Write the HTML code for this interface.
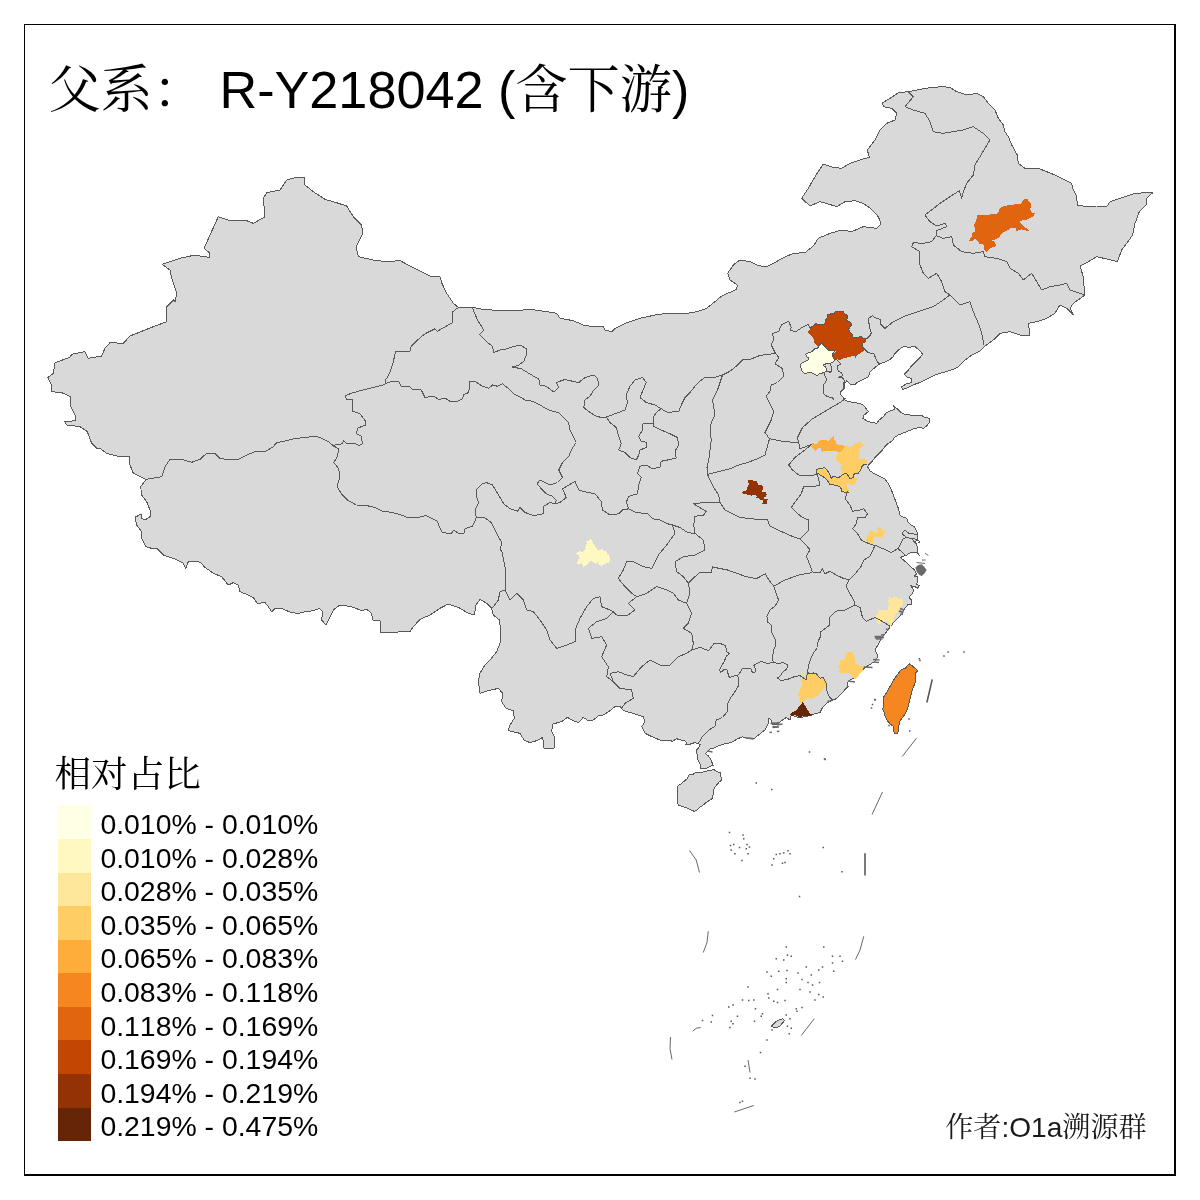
<!DOCTYPE html>
<html lang="zh"><head><meta charset="utf-8"><title>父系： R-Y218042 (含下游)</title>
<style>
html,body{margin:0;padding:0;background:#fff}
body{width:1200px;height:1200px;position:relative;overflow:hidden;font-family:"Liberation Sans","Noto Serif CJK SC",serif;color:#000}
.frame{position:absolute;left:24px;top:24px;width:1152px;height:1152px;box-sizing:border-box;border:solid #000;border-width:1px 2px 2px 1px}
svg{position:absolute;left:0;top:0}
.land{fill:#d9d9d9;stroke:#585858;stroke-width:1;stroke-linejoin:round;shape-rendering:crispEdges}
.prov{fill:none;stroke:#585858;stroke-width:1;stroke-linejoin:round;shape-rendering:crispEdges}
.reg{stroke:none;shape-rendering:crispEdges}
.tw{stroke:#585858;stroke-width:1;shape-rendering:crispEdges}
.dash{fill:none;stroke:#585858;stroke-width:.9}
.dash2{fill:none;stroke:#585858;stroke-width:1.6}
.dot{fill:none;stroke:#585858;stroke-width:1.5}
.speck{fill:none;stroke:#6a6a6a;stroke-width:1.4}
.islet{fill:none;stroke:#5a5a5a;stroke-width:1}
.title{font-kerning:none;position:absolute;left:48.4px;top:57.7px;font-size:52.2px;line-height:64px;white-space:pre;font-family:"Liberation Sans","Noto Serif CJK SC",serif}
.ltitle{position:absolute;left:54.5px;top:748.9px;font-size:36.6px;line-height:44px;white-space:pre;font-family:"Noto Serif CJK SC",serif}
.sw{position:absolute;left:58px;width:33px;height:33.6px}
.lb{font-kerning:none;position:absolute;left:100.4px;font-size:28.4px;line-height:36px;white-space:pre;height:33.5px}
.credit{font-kerning:none;position:absolute;left:945.2px;top:1108.8px;font-size:28.1px;line-height:38px;white-space:pre;color:#1a1a1a}
</style></head><body>
<div class="frame"></div>
<svg width="1200" height="1200" viewBox="0 0 1200 1200">
<path class="land" d="M175,301.67 176.67,293.33 171.67,278.33 170,270 162.33,264.33 180,258.33 195,255 203.33,256.67 210,257.33 209.33,252.67 204,248.33 218.33,216.67 230,220.67 246.67,220.67 253.33,223.33 265,216.67 263.33,198.33 266.67,192.67 280,190 286.67,180 295,177.67 304,177.33 305,185 313.33,191.67 325,199.33 333.33,201.67 346.67,206 353.33,216.67 361.67,225 362.67,233.33 356,246.67 358.33,256.67 373.33,260 386.67,261.67 400,260.67 413.33,267.67 430,276 440,276.67 441.67,282.67 446.67,293.33 453.33,303.33 458.33,307.33 471.67,307.33 483.33,309.33 500,310.67 516.67,310.67 530,309.33 546.67,311.67 556.67,313.33 560,318.33 573.33,320.67 583.33,325 593.33,326.67 603.33,326.67 605,330 611.67,331.67 615,328.33 626.67,322.67 640,318.33 655,315 666.67,313.33 683.33,314 696.67,311.67 706.67,308.33 715,301.67 721.67,296 736.67,289.33 737.33,285 730,280 727.67,273.33 733.33,265 740,260 750,261.67 758.33,265.67 766.67,266.67 776.67,261.67 780,259.33 793.33,253.33 805,252.67 813.33,246 818.33,238.33 830,233.33 841.67,230 851.67,231.67 863.33,226.67 876.67,228.33 881,224 878.33,216.67 871.67,209.33 863.33,203.33 855,200.67 845,201.67 836.67,206.67 828.33,204 820,201.67 810,206 801.67,198.33 808.33,188.33 815,176.67 823.33,164 833.33,167.33 841.67,168.33 850,163.33 861.67,159.33 869.33,157.33 867.33,150 875,140 880,130 886.67,123.33 895,120 896.67,113.33 891.67,108.33 883.33,106.67 882.67,102.67 891.67,97.33 898.33,92.67 908.33,91.67 920,89.33 930,87.67 941.67,86.67 950,87.33 956.67,91.67 966.67,95 976.67,93.33 983.33,96.67 988.33,103.33 995,110 998.33,118.33 1003.33,125 1005,131.67 1008.33,136.67 1011.67,145 1017.33,155 1018.33,163.33 1025,168.33 1038.33,168.33 1046.67,171.67 1055,175 1063.33,179.33 1071.67,183.33 1073.33,190 1076.67,196.67 1077.33,205 1086.67,206.67 1096.67,206 1106.67,206.67 1110,201.67 1123.33,197.33 1133.33,194 1146.67,192.33 1152.67,192.67 1146.67,198.33 1146,205 1139.33,211.67 1135,223.33 1132.67,235 1126.67,243.33 1121.67,250 1117.33,261.67 1108.33,259.33 1096.67,256.67 1088.33,261.67 1080,266 1083.33,276.67 1084.33,290 1085,295 1073.33,303.33 1070,308.33 1073.33,315 1066.67,308.33 1060,305 1055,313.33 1046.67,318.33 1036.67,321.67 1028.33,323.33 1030,335 1020,335 1010,331.67 1000,333.33 993.33,340 985,346 980,350.83 973.33,354.17 968.33,357.5 963.33,361.67 958.33,366.67 953.33,369.17 946.67,371.67 940,373.33 935,375 930,377.5 925,380 920,382.5 915,384.17 910,386.67 905,388.67 902.5,389.67 901.67,386.67 905.83,384.17 911.67,382.5 911.67,378.33 907.5,377.5 904.17,374.17 908.33,370 911.67,365.83 915.83,361.67 920,357.5 922.5,354.17 919.17,350 915,346.67 909.17,347.17 903.33,346.67 898.33,350 895,353.33 893.33,356.67 889.17,360 884.17,362.5 880,363.67 875,367.5 870,371.67 868.33,376.67 863.33,379.17 858.33,381.67 854.17,385 850,384.17 846.67,380.83 844.17,384.17 844.17,388.33 840.83,391.67 840,394.17 843.33,397.5 845.83,400.83 853.33,402.5 860,403.33 863.33,405 866.67,409.17 868.33,411.67 864.17,415 862.83,418.33 866.67,420.83 871.67,422.5 876.67,423.33 879.17,420 883.33,416.67 886.67,412.5 890.83,410.83 895,409.17 893.33,405.83 896.67,408.33 900,411.67 904.17,414.17 910,415 915,415.83 920.83,415 925,417.5 930,418.33 929.17,422.5 926.67,425.83 923.33,428.33 919.17,427.5 915,428.33 910.83,430 906.67,431.67 902.5,433.33 898.33,435 894.17,437.5 892.5,440.83 888.33,443.33 885,446.67 881.67,450.83 878.33,454.17 875,457.5 872.5,460.83 869.17,464.17 867.5,466.67 870,470.83 875,474.17 880,476.67 885,479.17 888.33,483.33 890.83,488.33 893.33,495 895.83,501.67 898.33,508.33 900,515 901.67,516.67 906.67,518.33 908.33,522.5 911.67,525.42 914.17,526.67 916.67,530.83 917.92,535 917.5,539.17 915.42,542.08 917.08,545.83 917.67,549.17 917.92,552.5 919.17,555.42 916.67,552.67 910.83,552.5 906.67,555 903.33,556.25 900.42,557.5 903.33,560 907.5,563.33 911.67,567.5 914.17,569.58 915.42,571.67 916.67,574.17 914.17,576.25 917.5,576.67 917.92,580.83 916.67,584.17 919.17,585.83 917.5,588.33 915,586.67 910.83,585.83 913.33,589.17 912.92,593.33 910,595.83 909.58,598.33 911.67,600 911.25,604.17 908.33,604.17 905,608.33 903.33,610 902.5,613.75 897.5,618.75 892.5,623.75 888.75,628.75 885,633.75 881.25,637.5 878.75,643.75 875,650 878,656.25 875,661.25 870,664.5 865,667.5 860,672.5 855,677.5 850,680 847.5,682.5 848.12,686.25 842.5,692.5 836.25,698.75 831.25,700.62 827.5,702.5 822.5,707.5 820,712.5 815,713.75 810,715.62 806.25,716.25 801.25,717.5 796.25,716.88 791.25,715 790,720 786.25,717.5 782.5,720 777.5,723.75 772.5,725 771.25,720 768.75,718.12 768.12,723.75 765,730 760,733.75 753.75,738.75 748.75,738.75 742.5,736.88 737.5,738.75 731.25,742.5 725,743.75 718.75,745.62 712.5,748.75 710,748.75 707.5,751.67 705.42,753.33 706.67,754.58 708.33,755.83 710,758.33 711.67,761.67 713.33,765.42 711.67,765.42 708.33,767.5 704.17,768.75 700.42,768.33 700.83,765 699.17,762.5 697.5,759.17 697.08,755 696.67,750 698.75,747.5 700,744.58 697.08,743.33 695,742.5 690,744.17 685.83,744.58 686.67,742.5 685,740.83 680.83,740 676.67,738.75 672.5,741.25 670,740.67 660,740 653.33,737.33 645,733.33 641.67,726.67 645,721.67 643.33,716.67 633.33,713.33 623.33,710.67 620,706 615,706.67 610,710.67 603.33,715 598.33,716 593.33,720 588.33,720.67 583.33,717.33 578.33,722.67 573.33,720.67 567.33,717.33 561.67,721.67 552.67,724 551.67,731.67 555,738.33 554,748.33 544,748.33 542.67,737.33 536.67,740.67 530,742.67 524,740 520,733.33 508.33,730.67 510,725 514.33,718.33 513.33,710.67 506,708.33 501.67,701.67 502.67,693.33 498.33,688.33 488.33,690.67 480,693.33 478.33,681.67 480,673.33 485,665 490,660 496.67,651.67 500,643.33 500.67,630 499.33,620 493.33,615 491.67,608.33 486.67,603.33 480,599.33 476,605 474.33,615 468.33,613.33 458.33,607.33 448.33,604 440,608.33 430,615 420,619.33 413.33,626.67 410,631.67 386.67,632.33 381,632.67 380,620.67 372.67,620 371.67,613.33 366.67,609.33 361.67,610.67 353.33,607.33 346.67,606 340,605 333.33,610 329.33,618.33 326,625 321.67,620 322.67,611.67 319.33,608.33 313.33,610.67 305,611.67 298.33,613.33 291.67,612.67 285,610 281.67,608.33 275,608.33 271.67,611.67 268.33,606.67 265,602.67 257.33,603.33 253.33,597.67 248.33,595 240,591.67 238.33,585 233.33,582.67 228.33,585 221.67,576.67 213.33,573.33 204,566.67 201.67,563.33 196.67,561 188.33,561.67 185.67,568.33 183.33,563.33 173.33,558.33 163.33,555 156.67,548.33 151.67,548.33 145.67,546.67 141.67,538.33 141.67,531.67 136.67,525 135,517.33 141,514 141.67,518.33 145,520 150,516.67 150,510 146.67,501.67 141.67,495 140.67,486.67 146,479.33 140,476.67 133.33,473.33 130,465 129.33,456.67 116.67,456 106.67,453.33 100,448.33 96.67,448.33 91.67,443.33 87.33,431.67 80,426.67 66.67,425 65,421.67 75,420.67 76,416.67 71,406.67 70.67,396.67 61.67,392.67 51.67,391.67 51.67,385 47.67,377.67 53.33,373.33 55,362.67 70,357.33 71.67,354.33 85,351.67 88.33,358.33 101.67,356 105,348.33 110,342.67 123.33,343.33 130,336 153.33,326.67 166.67,321.67 166.67,306.67 173.33,300Z"/>
<path class="land" d="M677.92,785.83 680.83,784.17 684.17,781.25 687.5,778.33 689.17,775 693.33,774.17 695.83,772.08 699.17,772.92 704.17,771.67 709.17,770.42 714.17,769.58 716.67,771.67 720,772.5 720.83,775.83 721.67,780 719.17,782.08 716.67,785 714.17,788.33 713.33,792.5 712.5,798.33 710,800 706.67,802.08 703.33,805 699.17,807.5 696.67,810.42 694.17,811.25 690.83,810 686.67,807.92 682.5,806.67 678.33,805 677.08,802.5 677.92,798.33 677.08,794.17 677.5,789.17Z"/>
<path class="reg" fill="#c14702" d="M808,331.88 810.25,329.63 812.5,326.25 815.88,323.63 820,324.75 823.75,324 826,321.75 825.25,319.88 827.13,318 827.5,315 830.88,313.88 834.25,313.88 835.38,311.63 842.88,311.4 844,313.13 847,315.38 847.38,318.38 845.88,319.5 847.75,321.38 850.75,322.13 851.5,324.75 849.63,327.38 848.5,329.25 850,332.25 852.25,334.5 853,337.13 857.5,337.13 861.25,336.75 863.88,338.63 866.13,339 865,342 862.38,343.5 862,346.5 864.25,348.75 864.25,351 861.25,352.5 859,354 857.13,355.5 855.63,357.75 854.5,356.25 849.25,356.63 845.5,358.13 842.5,358.5 839.5,360 836.5,359.25 833.5,358.5 832.75,355.5 832.38,353.63 835,352.5 836.5,351.75 835,350.25 832,350.63 829,350.25 826.75,348.75 825.25,346.88 823.38,345 821.88,343.5 820,344.25 818.13,346.13 815.88,344.25 814.38,343.13 814,340.5 812.88,337.5 811,335.25 809.13,333.75Z"/>
<path class="reg" fill="#ffffe5" d="M821.88,343.5 823.38,345 825.25,346.88 826.75,348.75 829,350.25 832,350.63 835,350.25 834.25,351.75 832.38,353.63 832.75,355.5 833.5,358.5 835,360 832.75,362.25 830.5,363.38 827.5,363.75 824.5,364.13 823.38,365.25 825.25,366.75 826.75,369 826,371.25 824.13,372.38 822.25,373.13 819.63,373.5 817,375.75 814,373.88 811,372.75 808,372.75 805,373.88 802.75,372 801.25,370.5 801.25,368.25 800.13,366 801.25,363.38 805,361.5 808,360 809.13,358.13 806.88,357 805.75,354 808.75,352.5 811.75,351.75 814.75,348.75 817.38,348.75 818.88,345.75 820.75,343.88Z"/>
<path class="reg" fill="#e1640e" d="M977.25,215 988.5,214.63 996.75,213.88 999,211.25 999.38,208.63 1001.25,206.75 1005,206 1008.75,204.88 1012.5,204.88 1017,203.75 1020.75,204.13 1022.25,201.88 1023.75,199.25 1027.88,198.88 1028.63,201.13 1030.88,203 1030.88,206.38 1030.13,209 1030.88,211.63 1033.13,213.13 1035,213.13 1033.88,216.13 1030.5,217.63 1027.5,219.5 1023.75,219.5 1020.75,221 1019.25,221.75 1022.25,224.75 1026,228.13 1029,230 1028.25,230.75 1024.5,230.38 1021.5,229.25 1018.5,230.38 1016.25,230.75 1015.5,228.5 1012.5,228.13 1010.25,228.5 1007.25,230.38 1003.5,232.25 1000.88,234.5 999.38,237.5 996,239 992.25,240.5 994.5,242 996,244.25 995.25,246.88 993,247.25 989.25,248.75 986.25,251.75 984.75,251 984,247.25 983.25,244.25 979.5,243.88 978,240.88 975,239 972.75,240.5 969.38,240.88 970.5,237.5 972,236 972.38,232.63 975,231.88 974.63,227.75 974.25,224.75 976.13,220.25 976.88,217.25Z"/>
<path class="reg" fill="#933204" d="M748,480 752.75,480 753.25,481 757,481 758,484 758.25,485 762,485 763,486.5 763,489.5 762,490.5 762,492 765.75,492.25 766.75,494.25 765.75,495.25 765.75,496.75 764.25,497 764,499 768,499.25 767,500.5 767,503.75 762,503.75 763,502.75 763,500 760,499.75 759,498.25 756,497.75 757,496.25 755,495 752,494.5 751.5,495.5 750.5,494.75 747,494.75 746.25,494 743,493.75 742,492.25 743.25,491.25 746,491 747.25,489 747.5,486.5 748.75,484 748,482Z"/>
<path class="reg" fill="#feac3a" d="M811.25,446.75 812,443.75 813.88,442.25 814.25,444.5 817.25,443.75 818.38,441.13 821.75,440 826.25,440.38 828.5,441.13 830,439.25 832.25,437.38 833.75,436.25 834.13,439.25 836,441.13 836.38,443.75 839,444.88 842,445.25 844.63,446.38 843.5,448.25 841.63,450.88 839,452.75 836.75,450.88 833.75,450.5 830,451.25 826.25,450.88 821.75,451.63 821,449 821.75,447.5 819.13,447.88 817.25,449.38 815,450.88 813.5,448.63Z"/>
<path class="reg" fill="#fece65" d="M844.63,446.38 846.88,445.63 848.75,446.75 852.5,446.38 855.13,443.38 858.5,442.63 860.75,442.25 862.25,444.13 864.88,444.5 863,446 860.75,447.5 858.5,449.75 860,452 859.25,454.25 859.63,456.5 857.38,458 859.25,458.75 862.25,459.13 863.75,458 865.25,459.88 866.75,460.63 866.75,463.25 864.5,464.38 862.25,465.88 861.13,468.5 860,470.75 858.5,473 855.88,473 854,474.5 853.63,477.5 851.75,477.88 849.88,478.25 848.75,476.75 848,474.5 845.75,473.38 843.5,474.13 842,473 841.25,470 840.13,467.75 841.63,465.5 839.75,463.25 837.5,461.75 835.63,459.5 836.38,456.5 837.5,454.25 839,452.75 841.63,450.88 843.5,448.25Z"/>
<path class="reg" fill="#fece65" d="M818,469.25 821,468.88 824.75,469.25 826.25,470 828.13,473 830,476 831.5,478.63 833,476 835.25,476.75 837.5,477.5 840.5,476.75 842.75,474.5 845,473.75 847.25,474.13 848.75,476.75 849.5,478.63 852.5,478.25 857.75,478.25 856.25,481.25 855.5,483.5 854,485 851,484.63 849.5,483.5 845.75,484.25 847.25,486.5 848.75,489.5 848.75,492.13 845,492.13 842,491.75 841.25,488.75 839.75,486.5 836.75,485.75 833,484.63 829.63,484.25 828.5,482 826.25,479 823.25,476.75 820.25,475.25 818.38,473 817.63,470.75Z"/>
<path class="reg" fill="#fff8c1" d="M590.5,538.9 592,540.25 592,541.75 593,542.25 593,543.75 595,545.25 595,547 597,548 597,550 601,550 601.25,549 603,549 603,551 606,551 607,552.25 607,554 609,554.25 609.25,557 610,557.25 610,561 609,561 609,563 606,563 605,564 603,565 602,565 601.75,567 601,567 600.75,565 598,564 598,562 597,562 597,564 596,564 595.75,563 594,562.75 593,562 592,561.75 591,561 590,561.25 589,562.25 589,563.25 587,564 586,565 585,566 584,566.25 583.25,567 582.75,565 581.75,564 581.25,563 580,564 577,564 577,562.25 578,562 578,559.25 580,559 580,558 579,558 578.75,555 577,555 576,553.5 577.25,552.25 579,552 579.25,551 581,551 581.25,552 583,552 585,549.5 586,548.5 585,548 585,547 586,546.75 586,544 587,543.75 587,542.25 586,542 586,541 588.75,540.75 589,540Z"/>
<path class="reg" fill="#fece65" d="M878.75,527 880,527.25 880.25,528 881.75,528.25 882,529.75 881.25,530 881.25,531 884,531 884.25,530 885,530 885,532 884,534 883,535 882,536 882,537 883,537.25 883,539 882,539 881,537.25 880,537 876,537 875,536 874,537 873,539 873,544 872,544.75 870,542.5 869,543 867,542 866,540 866,538.5 867,538 867.25,536 869,534 869,531.5 871,531 871.25,530 872,530 872.25,531 874,531 875,532 876,533 877,533 878,531 877,530 877,528 877.75,527.25Z"/>
<path class="reg" fill="#fee79b" d="M889,597 890.25,598 893,597.75 894,597 896,597 897,598 898,599 901,599 901.25,598 902,598.25 902.25,600 903,600.25 903,605 901.5,606 900,608 899,610 898,612 897,613 895.25,614 895,616 894,617 893.25,619 894,620 894.25,621 893,622 892,624 891.25,625 891.25,627 890,627 889.75,624 889,623.5 888,622 887,622 886,621 884,621 883,622 882,622.25 881,623 880,624 879,624.5 877.5,623 876.75,621 876,619 875.75,617 875,616 876,615 878,614 878,611 879,610 881,610.25 882,611 883,610.25 886,610 888,609.5 888.25,606 889,604 889,603 888,602 887,601.25 888,600 889,599.5Z"/>
<path class="reg" fill="#fece65" d="M807.13,672.25 809,673.38 813.5,673 816.5,673.75 818,676 820.25,678.25 823.25,677.5 824.38,679.75 825.88,682.75 825.88,686.5 824,688 822.5,690.25 820.25,692.5 818.75,695.5 815,697 812.75,698.88 809.75,698.13 806.38,699.25 805.25,700.75 802.63,702.25 800.75,703.75 799.25,701.5 800,698.5 798.5,696.25 798.13,694 800,691 799.63,688.75 801.88,686.5 802.25,682.75 801.13,680.88 800,679.38 802.25,678.25 804.5,679.75 806.75,680.5 806,677.5 806.38,674.5Z"/>
<path class="reg" fill="#662506" d="M802.63,702.25 804.5,704.5 805.63,706 806.75,709 809,711.25 809.75,713.5 812.75,713.88 813.88,714.25 812,715.38 809,715.75 806.75,716.5 803,715.75 801.13,717.63 798.88,717.25 797.75,715.75 794.75,715.38 792.13,716.5 789.88,713.88 792.5,712.38 796.25,710.5 798.13,707.88 800,705.25Z"/>
<path class="reg" fill="#fece65" d="M847.25,652 852.5,651.85 853.25,655 855.13,657.25 855.13,662.5 857,664.75 860,665.88 863,665.5 863.75,667.38 863,670.75 860.75,673 858.88,675.25 857.38,677.5 855.13,679 852.88,678.25 851.75,675.25 850.25,673.75 847.25,673 843.5,673 839.75,673.75 839,670.75 840.5,669.25 838.25,666.25 839.75,664 840.13,660.25 842.75,659.88 845,658.75 845.38,655Z"/>
<path class="prov" d="M146,479.33 161.67,476.67 165,466.67 170,459.33 181.67,459.33 191.67,462.33 200,459.33 206.67,453.33 215,453.33 220,458.33 230,460 238.33,459.33 246.67,455 256.67,451 265,451.67 273.33,446.67 276.67,442.67 286.67,440.67 295,438.33 305,437.67 315,436 321.67,438.33 328.33,441.67 333.33,445.67"/>
<path class="prov" d="M457.5,308 452,312.5 453,322.5 443.75,327.5 437.5,331.25 435,328.75 425,333.75 417.5,340 411.25,346.25 410,351.25 395.5,352 392.5,365 388.75,375 385.5,380 385,383.75"/>
<path class="prov" d="M385,384.5 375,387 365,389.5 353.75,392.5 345.5,395.5 346.25,399.5 352.5,400 352.5,411.25 360,413.75 365.5,421.25 365.5,425 358,428 356.25,433.75 361.25,436.25 362.5,443.75 358.75,445.5 353.75,443 346.25,443 343.75,440.5 342,443.75 332.5,445.5"/>
<path class="prov" d="M332.5,445.5 338.75,448.75 337.5,456.25 333.75,462.5 338.75,468.75 340,477.5 337,486.25 341.25,493.75 347.5,500 356.25,505 366.25,505.5 375,507.5 382.5,511.25 392.5,512.5 400,514.5 407.5,517.5 417.5,517.5 426.25,515.5 432.5,518.75 437.5,521.25 439.5,527.5 442.5,532.5 451.25,533.75 453.75,530 458.75,533.75 463.75,533.75 465,528.75 472.5,526.25 475,521.25 476.25,517"/>
<path class="prov" d="M476.25,517 485,518 491.25,522.5 495,530 498.75,537.5 502,542.5 500,550"/>
<path class="prov" d="M476.25,517 475,510 478.75,502.5 476.25,496.25 476.25,490 482.5,483.75 486.25,482.5 492.5,485 496.25,491.25 500,497.5 503.75,503.75 510,508.75 517.5,511.25 520,507.5 525,512.5 533.75,515.5 543.75,513.75 543.75,506.25 550,502.5 555,503.75"/>
<path class="prov" d="M576.25,442.5 571.25,450 568.75,456.25 562.5,462.5 558.75,470 562.5,477.5 557.5,482.5 550,485 540,480 537,483.75 541.25,488.75 546.25,493.75 552.5,496.25 556.25,500 555,503.75 560,502.5 566.25,497.5 562.5,488.75 568.75,485 575,481.25 578.75,490 587.5,492.5 595,493.75 600,500"/>
<path class="prov" d="M385,383.75 390,382 398.75,381.75 401.25,386.25 410,387 412.5,389.5 421.25,390 425,397.5 433.75,396.25 438.75,399.5 445,398 450,401.25 456.25,402 462.5,398.75 463.75,394.5 468.75,392.5 470,381.25 475,381.25 482.5,386.25 488.75,388.25 492.5,385 497.5,386.25 502.5,383.75 508.75,388.75 513.75,393.75 521.25,397.5 525,400 532.5,401.25 540,405 546.25,408.75 552.5,411.25 558.75,412.5 563.75,417.5 568.75,422.5 569.5,428.75 572.5,435 576.25,442.5"/>
<path class="prov" d="M472.5,308 477.5,320 483.75,330 479.5,334.5 487.5,342.5 492.5,346.25 493.75,352.5 500,350 507.5,348.75 513.75,346.25 521.25,345.5 526.25,348.75 526.25,355 523.75,361.25 518.75,365 512.5,367 521.25,368.75 527.5,372.5 533.75,376.25 538.75,378.75 540,385 546.25,386.25 553.75,392 558.75,387.5 556.25,382.5 565,379.5 572.5,381.25 578.75,382.5 585,377.5 593.75,375 597.5,378.75 598.75,385 593.75,390 590,396.25 585,400 583.75,407.5 590,412.5 596.25,416.25 600,417"/>
<path class="prov" d="M598.75,417 606.25,417 615,413.75 625,410 627.5,402.5 626.25,395 630,386.25 635,380 642.5,377.5 646.25,382.5 642.5,391.25 640,397.5 646.25,402.5 655,405 661.25,408.75"/>
<path class="prov" d="M606.25,417 610,422.5 616.25,427.5 618.75,436.25 621.25,443.75 618.75,450 625,452.5 630,457.5 636.25,460 638.75,455 640,450 646.25,447.5 647,442.5 641.25,441.25 638.75,436.25 642.5,430 643,423.75 653.75,423 653.75,416.25 657.5,411.25 661.25,408.75"/>
<path class="prov" d="M653.75,423 653.75,426.25 661.25,430 670,433.75 677.5,437.5 678.75,445 675,451.25 676.25,458 667.5,460 661.25,461.25 660,467 652.5,468.75 646.25,465 640,466.25 637.5,473.75 641.25,477.5 638.75,485 637.5,493.75 628.75,496.25 626.25,502.5 628.75,508.75"/>
<path class="prov" d="M600,500 601.25,501.25 602.5,510 610,515 618.75,513.75 622.5,510 628.75,508.75 636.25,512.5 647.5,513.75 652.5,518.75 660,520 667.5,523.75 672.5,525 680,527.5 687.5,532.5 695,533.75 693.75,525 695,516.25 703.75,515 706.25,511.25 697.5,506.25 693.75,503.75 705,502.5 720,503"/>
<path class="prov" d="M722.5,375 720,382.5 717.5,390 712.5,400 713.75,407.5 715,415 711.25,422.5 710,430 711.25,440 710,450 708.75,460 707,467.5 707.5,474.5 710,480 713.75,487.5 718.75,495 720,503"/>
<path class="prov" d="M661.25,408.75 667.5,412.5 678.75,411.25 681.25,405 685,397.5 690,392.5 695,386.25 700,381.25 705,377.5 712.5,378 722.5,375 730,371.25 736.25,366.25 742.5,360 750,359.5 757.5,356.25 765,354.5 773.75,353.75 775,352.5"/>
<path class="prov" d="M775,352.5 778.75,357.5 775,363.75 782.5,368.75 783.75,376.25 777.5,382.5 771.25,385 770,391.25 766.25,396.25 770,403.75 773.75,411.25 771.25,420 767.5,427.5 765,432.5 769.5,438.75"/>
<path class="prov" d="M769.5,438.75 767.5,446.25 765,455 757.5,458.75 747.5,462.5 738.75,465 730,468.75 720,471.25 707.5,474.5"/>
<path class="prov" d="M775,352.5 771.25,345 773.75,338.75 772.5,333.75 778.75,331.25 781.25,325 788.75,321.25 791.25,327.5 790,331.25"/>
<path class="prov" d="M770,438.75 782.5,441.25 798.75,443 800,448.75"/>
<path class="prov" d="M800,448.75 797.5,437.5 802.5,427.5 812.5,418.75 825,411.25 840,402.5 846.25,398"/>
<path class="prov" d="M800,448.75 811.25,444.5 805,450 795,457.5 788.75,465 792.5,470 798.75,475 810,475.5 817.5,474.5 820,485 815,486.25 803.75,486.25 801.25,493.75 797.5,498.75 791.25,507.5 796.25,512.5 802.5,517.5 808.75,520 808.75,530 803.75,535 800,538.75 806.25,545 810,550 806.25,556.25 810,565 812.5,572.5"/>
<path class="prov" d="M720,502.5 725,510 740,517.5 758.75,519.5 767.5,520 770,526.25 782.5,532 793.75,537 800,538.75"/>
<path class="prov" d="M847.5,491.25 845,498.75 850,505 852.5,511.25 860,510 863.75,508.75 867.5,513.75 865,517.5 857.5,517.5 856.25,523.75 852.5,528.75 857.5,533.75 861.25,540 866.25,542.5 872.5,545 875,545"/>
<path class="prov" d="M875,545 880,547.5 886.25,550 891.25,552.5 897.5,548.75 900,551.25"/>
<path class="prov" d="M875,545 872.5,551.25 870,556.25 863.75,560 861.25,566.25 856.25,572.5 850,578.75 848.75,580"/>
<path class="prov" d="M812.5,572.5 820,572.5 822.5,568.75 825,573.75 830,571.25 836.25,575 842.5,578 848.75,580"/>
<path class="prov" d="M700,572.5 711.25,572.5 712.5,567 727.5,570 745,576.25 756.25,578.75 765.5,573.75 768.75,580 773.75,586.25"/>
<path class="prov" d="M773.75,586.25 785,580 798.75,575 812.5,572.5"/>
<path class="prov" d="M773.75,586.25 777.5,597.5 778.75,600"/>
<path class="prov" d="M778.75,600 775,606.25 770,610 766.88,616.25 767.5,621.88 771.25,625 771.88,632.5 775,638.75 775.62,645 773.75,650 772.5,656.25 773.12,661.88"/>
<path class="prov" d="M848.75,580 846.25,586.25 850,593.75 853.75,600 855,605"/>
<path class="prov" d="M855,605 850,607.5 845,610 840,610 835,611.88 829.38,617.5 830,625 825,628.75 820,632.5 820.62,636.25 818.12,641.25 817.5,647.5 813.75,652.5 811.25,657.5 808.75,665 807.5,672.5"/>
<path class="prov" d="M855,605 860,607.5 862.5,617.5 866.25,621.25 875,617.5 880,620 890,626.25"/>
<path class="prov" d="M500,550 501.67,550 505,566.67 506,583.33 505,590 500,591.67 498.33,600 493.33,606.67 491.67,608.33"/>
<path class="prov" d="M505,590 510,600 516.67,593.33 523.33,600 526.67,610 533.33,611.67 540,620 546.67,630 550,640 556.67,648.33 566.67,645 575,641.67 575,630 580,618.33 586.67,606.67 593.33,598.33 600,596.67 601.67,606.67 610,610 613.33,611.67"/>
<path class="prov" d="M613.33,611.67 606.67,618.33 596.67,621.67 588.33,628.33 591.67,638.33 601.67,636.67 606.67,645 601.67,656.67 608.33,666.67 606.67,676.67 613.33,681.67 620,688.33 631.67,690 633.33,698.33 625,703.33 621.67,708.33"/>
<path class="prov" d="M672.33,525 675,533.33 666.67,545 658.33,555 651.67,568.33 643.33,566.67 633.33,561.67 626.67,561.67 623.33,570 618.33,578.33 625,586.67 631.67,593.33 636.67,596.67"/>
<path class="prov" d="M613.33,611.67 616.67,615 628.33,615 635,610 628.33,603.33 636.67,596.67 646.67,593.33 656.67,586.67 666.67,590 673.33,593.33 678.33,600 686.67,603.33"/>
<path class="prov" d="M695,533.33 703.33,540 705,550 695,555 683.33,556.67 675,561.67 676.67,571.67 683.33,576.67 688.33,583.33 690,593.33 686.67,603.33 691.67,613.33 688.33,623.33 683.33,628.33 691.67,633.33 693.33,643.33 691.67,650"/>
<path class="prov" d="M688.33,583.33 695,576.67 700,572.33"/>
<path class="prov" d="M613.33,681.67 610,673.33 618.33,671.67 626.67,675 633.33,676.67 641.67,666.67 650,660 660,665 670,665 678.33,656.67 686.67,653.33 691.67,650 700,647.33"/>
<path class="prov" d="M700,646.88 705,649.38 708.75,650.62 713.75,643.75 719.38,643.12 725.62,645.62 726.88,651.88 729.38,653.75 726.25,656.25 724.38,661.25 721.25,666.25 719.38,670 720.62,672.5 724.38,669.38 726.88,670 729.38,677.5 732.5,676.25 737.5,675.62 740,672.5 742.5,668.12 750.62,668.12 751.88,671.88 755,672.5 755.62,669.38 753.75,665 756.88,663.75 761.25,661.25 768.12,663.75 773.12,661.88 777.5,663.75 783.12,662.5 787.5,665 786.88,668.75 782.5,672.5 780,676.25 777.5,678.12 781.25,680.62 787.5,679.38 793.75,676.88 800,675.62 803.75,678.12 806.25,680 807.5,672.5"/>
<path class="prov" d="M737.5,675.62 738.75,680 738.12,686.25 734.38,692.5 730,698.75 727.5,703.75 727.5,711.25 722.5,717.5 716.25,720 715,726.25 708.75,730 702.5,736.25 700,741.25 696.88,743.75"/>
<path class="prov" d="M908.33,91.67 913.33,96.67 905,106.67 913.33,110 925,113.33 930,121.67 933.33,131.67 943.33,133.33 953.33,131.67 963.33,130 973.33,126.67 983.33,133.33 990,140 985,148.33 980,156.67 975,165 973.33,175 966.67,183.33 963.33,191.67 961.67,198.33 959.33,190.67 950,196.67 940,203.33 931.67,210 925,215 930,221.67 936.67,226 945,223.33 946.67,226.67 936.67,230.67 936,235.67"/>
<path class="prov" d="M936,235.67 931.67,241.67 923.33,243.33 913.33,242.67 911.67,246.67 920,251.67 919.33,263.33 923.33,273.33 928.33,278.33 936.67,273.33 941.67,281.67 945,291.67 950,295"/>
<path class="prov" d="M936,235.67 943.33,238.33 951.67,236.67 953.33,245 961.67,251.67 973.33,253.33 983.33,251.67 985,256.67 996.67,258.33 1006.67,261.67 1010,268.33 1018.33,273.33 1023.33,280 1031.67,273.33 1036.67,281.67 1041.67,290 1050,286.67 1060,285 1066.67,283.33 1070,290 1085,295"/>
<path class="prov" d="M950,295 960,305 970,301.67 973.33,311.67 978.33,323.33 981.67,333.33 984,345"/>
<path class="prov" d="M950,295 943.33,300 933.33,306.67 923.33,310 913.33,313.33 903.33,316.67 893.33,321.67 885,328.33 880,323.33 880,319.33"/>
<path class="prov" d="M821.88,343.5 823.38,345 825.25,346.88 826.75,348.75 829,350.25 832,350.63 835,350.25 834.25,351.75 832.38,353.63 832.75,355.5 833.5,358.5 835,360 832.75,362.25 830.5,363.38 827.5,363.75 824.5,364.13 823.38,365.25 825.25,366.75 826.75,369 826,371.25 824.13,372.38 822.25,373.13 819.63,373.5 817,375.75 814,373.88 811,372.75 808,372.75 805,373.88 802.75,372 801.25,370.5 801.25,368.25 800.13,366 801.25,363.38 805,361.5 808,360 809.13,358.13 806.88,357 805.75,354 808.75,352.5 811.75,351.75 814.75,348.75 817.38,348.75 818.88,345.75 820.75,343.88 821.88,343.5"/>
<path class="prov" d="M790,331.13 790.75,330.38 796,331.88 798.25,330 802.75,327 808.38,324.38 810.25,328.13 812.5,326.25 815.88,323.63 820,324.75 823.75,324 826,321.75 825.25,319.88 827.13,318 827.5,315 830.88,313.88 834.25,313.88 835.38,311.63 842.88,311.4 844,313.13 847,315.38 847.38,318.38 845.88,319.5 847.75,321.38 850.75,322.13 851.5,324.75 849.63,327.38 848.5,329.25 850,332.25 852.25,334.5 853,337.13 857.5,337.13 861.25,336.75 863.88,338.63 866.13,339 868,337.5 870.25,335.25 871.38,332.63 870.25,330 869.5,325.5 868.38,321 868.75,318 872.5,315.75 874.75,317.63 880,319.5"/>
<path class="prov" d="M866.13,339 865,342 862.38,343.5 862,346.5 864.25,348.75 868,352.5 874,354 875.5,357.75 877.75,362.25 880,364.13"/>
<path class="prov" d="M835,360 836.5,359.25 838.75,361.5 841,364.5 838,365.25 837.25,368.25 838.75,371.25 841.75,373.13 842.5,375.75 838,377.25 842.5,378 844.75,381 843.63,383.25 843.63,387 842.5,390"/>
<path class="prov" d="M824.13,372.38 825.25,376.5 826.75,379.5 825.25,382.5 823,385.5 823,390 824.13,394.5 827.5,396.75 832,397.5 834.25,399.75"/>
<path class="prov" d="M830.5,363.38 831.25,367.5 832,369.75 830.5,372.38 827.5,371.25 826,371.25"/>
<path class="prov" d="M816.13,474.5 816.5,470 818,468.88 821,468.35 824.75,467.75 826.63,469.25 828.5,472.25 830.38,476 831.5,478.63 833,476 835.25,476.75 837.5,477.5 840.5,476.75 842.75,474.5 845,473.75 847.25,474.13 848.75,476.75 849.5,478.63 853.63,477.5 854,474.5 855.88,473 858.5,473 860,470.75 861.13,468.5 862.25,465.88 864.5,464.38 867.5,464"/>
<path class="prov" d="M816.13,474.5 817.63,473 818.38,473 820.25,475.25 823.25,476.75 826.25,479 828.5,482 829.63,484.25 833,484.63 836.75,485.75 839.75,486.5 841.25,488.75 842,491.75 845,492.13 848.75,492.13"/>
<path class="prov" d="M807.5,672.25 809,673.38 813.5,673 816.5,673.75 818,676 820.25,678.25 823.25,677.5 824.38,679.75 825.88,682.75 826.63,686.5 827,691 828.5,695.5 830.75,698.5 833,700"/>
<path class="prov" d="M901.67,533.33 905,530 909.17,533.75 916.67,534.17"/>
<path class="prov" d="M901.67,533.33 906.67,537.5 911.67,538.75 915,542.5"/>
<path class="prov" d="M911.67,538.75 916.67,539.17 920,542.08 917.5,543.33"/>
<path class="prov" d="M898.33,548.33 900.83,543.33 903.33,538.75 906.67,537.5"/>
<path class="prov" d="M898.33,548.33 902.5,552.5 905,555 906.67,555"/>
<path class="tw" fill="#f68720" d="M909.38,664 911.88,665.62 915,668.12 918.12,671 915.62,672.5 915,676.25 915.62,681.25 913.75,686.25 911.88,691.25 910.62,696.25 909.38,701.25 908.12,706.25 906.88,710 905,714.38 902.5,717.5 900,720.62 899,725 898.5,730 897.5,733.75 895,734 893.5,731.25 893.12,726.25 890,723.75 886.88,720 885,716.25 884.38,712.5 882.5,709.38 883.75,705 883.12,700 883.75,696.88 886.25,693.12 888.75,688.75 891.25,684.38 893.75,680 896.25,676.25 899.38,671.88 901.88,669.38 905.62,668.12 907.5,665.62Z"/>
<path class="dash" d="M916.5,738.12 902.25,756.5"/>
<path class="dash" d="M882.5,792 872,814.5"/>
<path class="dash" d="M863.75,936.25 860,950 855.5,959.5"/>
<path class="dash" d="M814.25,1018.75 801.25,1035.5"/>
<path class="dash" d="M689.5,850.5 696.25,860 699.5,872.5"/>
<path class="dash" d="M708.25,931.25 707,942.5 703.25,952.5"/>
<path class="dash" d="M670.5,1037 670,1048.75 672,1059.5"/>
<path class="dash" d="M734.25,1112 753.75,1105.5"/>
<path class="dash" d="M748,1060 750,1072.5"/>
<path class="dash" d="M692.5,1031.25 696.25,1028.25 700.75,1027.5"/>
<path class="dash" d="M922.08,560 925.67,560"/>
<path class="dash" d="M916.67,562.5 925,563.5"/>
<path class="dash" d="M925,553.33 928.33,555.42"/>
<path class="dash2" d="M932.25,679.38 926.88,702.5"/>
<path class="dash2" d="M865,853.25 865,875.5"/>
<path class="land" d="M771.25,1026.25 776.25,1021.25 782.5,1018.75 784.5,1020.5 780,1026.25 775,1028Z"/>
<path fill="#6a6a6a" d="M915.42,567.5 918.33,565 921.67,564.17 924.17,566.67 926.67,570 924.58,573.33 921.67,576.25 918.75,574.17 916.67,571.67Z"/>
<path class="speck" d="M875,637 883.75,637"/>
<path class="speck" d="M876,639 882.5,639"/>
<path class="speck" d="M873,659.5 879.5,660"/>
<path class="speck" d="M874,662 879,662.5"/>
<path class="speck" d="M863.75,667 872.5,667.5"/>
<path class="speck" d="M848,681 855,682"/>
<path class="speck" d="M827.5,701 831.25,701.5"/>
<path class="speck" d="M770.5,723.5 775,723"/>
<path class="speck" d="M777,725 782.5,724"/>
<path class="speck" d="M772.5,726.5 778.75,727"/>
<path class="speck" d="M745.5,738 752.5,738.5"/>
<path class="speck" d="M707.5,751 712.5,752"/>
<path class="speck" d="M898.75,611.25 903.75,612"/>
<path class="speck" d="M900,614 903,614.5"/>
<path class="speck" d="M874.5,636.5 881,636.5"/>
<path class="speck" d="M875,638 884,637.5"/>
<path class="speck" d="M881,635 885,634.5"/>
<path class="speck" d="M886,629 888.5,630"/>
<path class="speck" d="M900,608.5 904,610"/>
<path class="speck" d="M899.5,611 903,612.25"/>
<path class="speck" d="M771.5,723.75 780,722.5"/>
<path class="speck" d="M772.5,727.5 778.75,726.88"/>
<path class="speck" d="M747.25,738.12 753.75,739"/>
<path class="speck" d="M769.38,732.5 771.88,732.25"/>
<path class="speck" d="M776.88,731.5 779.38,731.25"/>
<path class="dot" d="M728.75,832.5h1.5M742.25,835h1.5M743,838.75h1.5M729.75,845.5h1.5M733,844.5h1.5M730.5,850h1.5M734.25,853.75h1.5M738.75,847.5h1.5M746.25,844.5h1.5M748.75,847h1.5M745.5,848.75h1.5M747.25,853.75h1.5M741.25,860.5h1.5M775.5,854.5h1.5M779.25,853.75h1.5M783,853h1.5M787.25,850.75h1.5M789.25,853.75h1.5M784.25,862.5h1.5M781.75,863.25h1.5M771.25,865h1.5M773,858.75h1.5M755.5,783h1.5M771,789.5h1.5M822.5,847.5h1.5M841.25,871.75h1.5M798.75,896.5h1.5M785.5,947h1.5M823,947h1.5M786.75,955h1.5M790.5,956.25h1.5M783,960h1.5M775.5,958.75h1.5M831.75,956.25h1.5M839.25,956.25h1.5M841.75,961.25h1.5M831.75,963h1.5M821.75,967h1.5M818,970h1.5M805.5,967h1.5M766.25,972h1.5M778,971.25h1.5M786.25,970.5h1.5M797.25,973h1.5M833,971.25h1.5M770.5,976.25h1.5M785.5,978.75h1.5M801.25,979.5h1.5M810.5,975h1.5M807.25,982.5h1.5M811.75,985h1.5M818.75,982.5h1.5M785.5,982.5h1.5M799.25,989.5h1.5M809.25,992h1.5M776.75,989.5h1.5M747.25,987h1.5M767.25,993.75h1.5M768,998h1.5M773,1001.25h1.5M776.75,1002.5h1.5M784.25,1000.5h1.5M818,994.5h1.5M822.5,997h1.5M814.25,1000h1.5M741.75,1000h1.5M748,1000.5h1.5M753,1000h1.5M728,1007h1.5M732.25,1005h1.5M795.5,1008.75h1.5M801.25,1007.5h1.5M796.25,1011.25h1.5M754.75,1008.75h1.5M761.75,1013.75h1.5M760.5,1016.25h1.5M736.75,1016.25h1.5M730.5,1021.25h1.5M732.25,1023.75h1.5M729.25,1027.5h1.5M711.75,1015.5h1.5M710.5,1022h1.5M701.75,1020.5h1.5M753.75,1021.25h1.5M785.5,1015h1.5M789.25,1018.75h1.5M786.75,1026.25h1.5M790.5,1028.25h1.5M788.5,1033.75h1.5M771.25,1030h1.5M766.25,1040h1.5M759.75,1052.5h1.5M739.25,1102.5h1.5M741.75,1101.25h1.5M749.25,1078.25h1.5M754.25,1079h1.5M744.25,1066.25h1.5M874,699.38h1.5M874.5,700h1.5M871.75,704.38h1.5M870.75,708.12h1.5M918.63,658.75h1.5M919.25,660.62h1.5M943.25,655.88h1.5M947.37,651.88h1.5M963.25,651.88h1.5M908.25,719h1.5M909,731h1.5M888.25,725.38h1.5M808.75,752h1.5M823.75,758.75h1.5M824.5,759.5h1.5"/>
</svg>
<div class="title">父系： R-Y218042 (含下游)</div>
<div class="ltitle">相对占比</div>
<div class="sw" style="top:805.4px;background:#ffffe5"></div><div class="lb" style="top:806.2px">0.010% - 0.010%</div>
<div class="sw" style="top:838.97px;background:#fff8c1"></div><div class="lb" style="top:839.77px">0.010% - 0.028%</div>
<div class="sw" style="top:872.54px;background:#fee79b"></div><div class="lb" style="top:873.34px">0.028% - 0.035%</div>
<div class="sw" style="top:906.11px;background:#fece65"></div><div class="lb" style="top:906.91px">0.035% - 0.065%</div>
<div class="sw" style="top:939.68px;background:#feac3a"></div><div class="lb" style="top:940.48px">0.065% - 0.083%</div>
<div class="sw" style="top:973.25px;background:#f68720"></div><div class="lb" style="top:974.05px">0.083% - 0.118%</div>
<div class="sw" style="top:1006.82px;background:#e1640e"></div><div class="lb" style="top:1007.62px">0.118% - 0.169%</div>
<div class="sw" style="top:1040.39px;background:#c14702"></div><div class="lb" style="top:1041.19px">0.169% - 0.194%</div>
<div class="sw" style="top:1073.96px;background:#933204"></div><div class="lb" style="top:1074.76px">0.194% - 0.219%</div>
<div class="sw" style="top:1107.53px;background:#662506"></div><div class="lb" style="top:1108.33px">0.219% - 0.475%</div>
<div class="credit">作者:O1a溯源群</div>
</body></html>
